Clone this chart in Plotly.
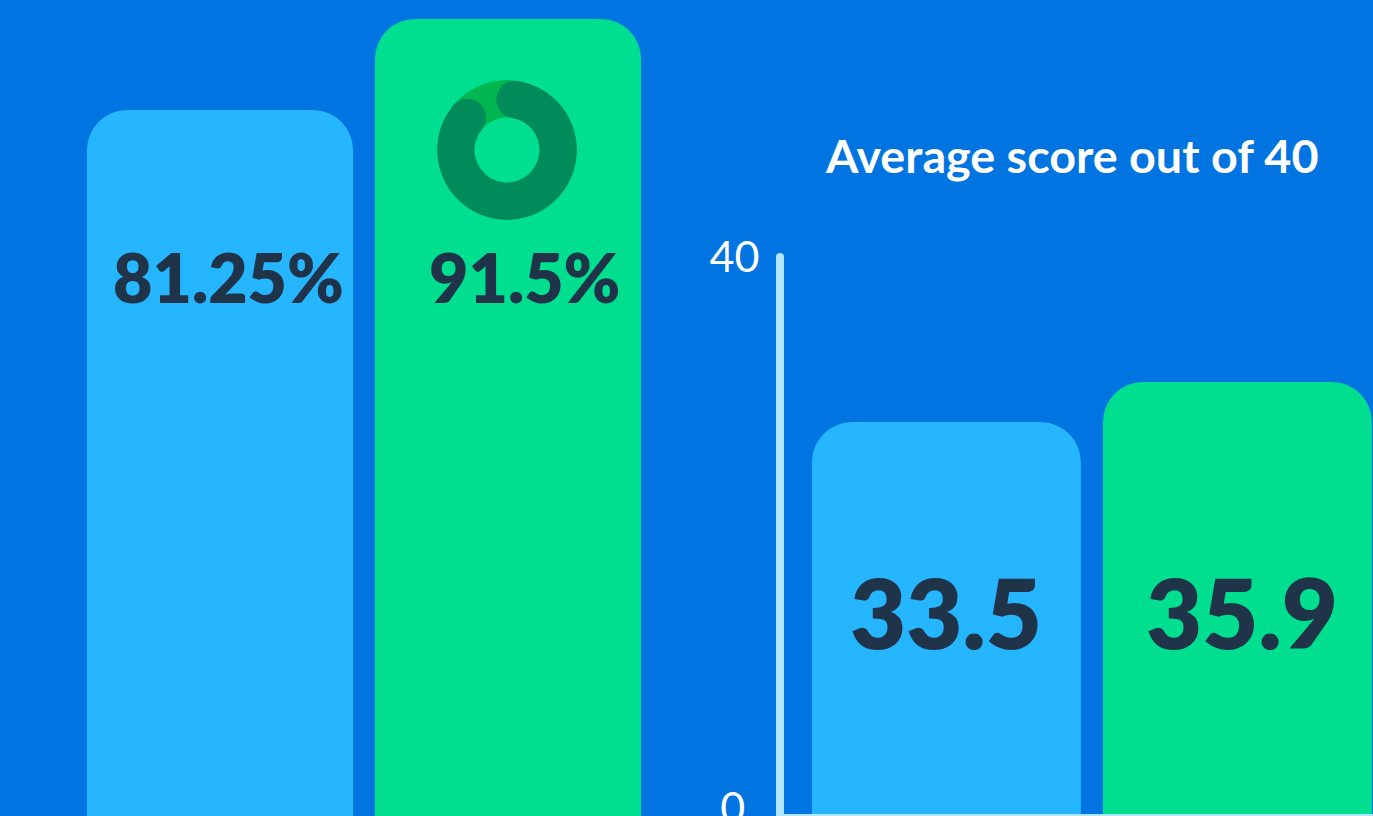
import math
import plotly.graph_objects as go

# ---- data ----
percent_labels = ["81.25%", "91.5%"]
percent_values = [81.25, 91.5]
score_labels = ["33.5", "35.9"]
score_values = [33.5, 35.9]
score_ticks = [0, 40]
score_tick_labels = ["0\u2004", "40"]   # the 0 sits centred under the 40
ring_sweep = [83.4, 16.6]   # share of the ring covered by the dark arc / the rest
ring_start_deg = 9

# ---- style ----
W, H = 1373, 816
BG = "#0074E0"
BLUE = "#26B5FF"
GREEN = "#00DF90"
DARK = "#1F3349"
AXIS = "#B3E5FF"
RING_DARK = "#008C5A"
RING_LIGHT = "#00B84F"
FONT = "Lato"

px = lambda x: x / W
py = lambda y: 1 - y / H

fig = go.Figure()

# left bars
fig.add_bar(x=[0, 1], y=percent_values, marker=dict(color=[BLUE, GREEN], line_width=0),
            xaxis="x", yaxis="y", hoverinfo="skip", showlegend=False)
# invisible trace that keeps the labelled 0-40 axis on the page
fig.add_scatter(x=[0, 0], y=score_ticks, mode="markers", marker=dict(opacity=0),
                xaxis="x2", yaxis="y2", hoverinfo="skip", showlegend=False)
# right bars (own hidden scale, starts at 10)
fig.add_bar(x=[0, 1], y=score_values, marker=dict(color=[BLUE, GREEN], line_width=0),
            xaxis="x2", yaxis="y3", hoverinfo="skip", showlegend=False)

# ring
inner, outer = 32.5, 70
sweep_deg = [v / sum(ring_sweep) * 360 for v in ring_sweep]
centers = [ring_start_deg + sweep_deg[0] / 2, ring_start_deg + sweep_deg[0] + sweep_deg[1] / 2]
fig.add_barpolar(r=[outer - inner] * 2, base=[inner] * 2, theta=centers, width=sweep_deg,
                 marker=dict(color=[RING_DARK, RING_LIGHT], line_width=0),
                 hoverinfo="skip", showlegend=False)
fig.add_scatterpolar(r=[(inner + outer) / 2] * 2,
                     theta=[ring_start_deg, ring_start_deg + sweep_deg[0]],
                     mode="markers", cliponaxis=False,
                     marker=dict(color=RING_DARK, size=outer - inner, line_width=0),
                     hoverinfo="skip", showlegend=False)

hidden = dict(visible=False, fixedrange=True, automargin=False)


def label(text, xc, yc, size, color, weight=800):
    return dict(text=text, x=px(xc), y=py(yc), xref="paper", yref="paper",
                xanchor="center", yanchor="middle", showarrow=False,
                font=dict(family=FONT, size=size, color=color, weight=weight))


anns = []
for t, xc in zip(percent_labels, [228, 524]):
    anns.append(label(t, xc, 276, 68, DARK))
for t, xc in zip(score_labels, [946, 1242]):
    anns.append(label(t, xc, 611, 97, DARK))
anns.append(label("Average score out of 40", 1072, 155, 46.7, "white", 700))

fig.update_layout(
    width=W, height=H, margin=dict(l=0, r=0, t=0, b=0, autoexpand=False),
    paper_bgcolor=BG, plot_bgcolor="rgba(0,0,0,0)",
    bargap=0.076, barcornerradius=40, showlegend=False,
    annotations=anns,
    xaxis=dict(domain=[px(76), px(652)], range=[-0.5, 1.5], anchor="y", **hidden),
    yaxis=dict(domain=[0, 1], range=[1.73, 93.64], anchor="x", **hidden),
    xaxis2=dict(domain=[px(784), 1], range=[-0.558, 1.466], anchor="y2", fixedrange=True,
                automargin=False, showline=True, linecolor=AXIS, linewidth=2, showgrid=False,
                zeroline=False, showticklabels=False, ticks=""),
    yaxis2=dict(domain=[py(814), py(257)], range=[-0.436, 40], anchor="x2", fixedrange=True,
                automargin=False, tickvals=score_ticks, ticktext=score_tick_labels,
                showline=True, linecolor=AXIS, linewidth=8,
                showgrid=False, zeroline=False, ticks="outside", ticklen=8,
                ticklabeloverflow="allow",
                tickcolor="rgba(0,0,0,0)", tickfont=dict(family="Lato", size=43, color="white")),
    yaxis3=dict(domain=[py(814), py(257)], range=[10, 43.4], overlaying="y2", anchor="x2", **hidden),
    polar=dict(domain=dict(x=[px(437), px(577)], y=[py(220), py(80)]),
               bgcolor="rgba(0,0,0,0)",
               radialaxis=dict(visible=False, range=[0, outer]),
               angularaxis=dict(visible=False, rotation=90, direction="clockwise")),
    # rounded top end of the axis line
    shapes=[dict(type="circle", xref="paper", yref="paper", layer="above", line_width=0,
                 fillcolor=AXIS, x0=px(776), x1=px(784), y0=py(261), y1=py(253))],
)

fig.write_html("out.html", config=dict(displayModeBar=False),
               post_script="document.body.style.margin='0';document.body.style.overflow='hidden';document.documentElement.style.overflow='hidden';")
